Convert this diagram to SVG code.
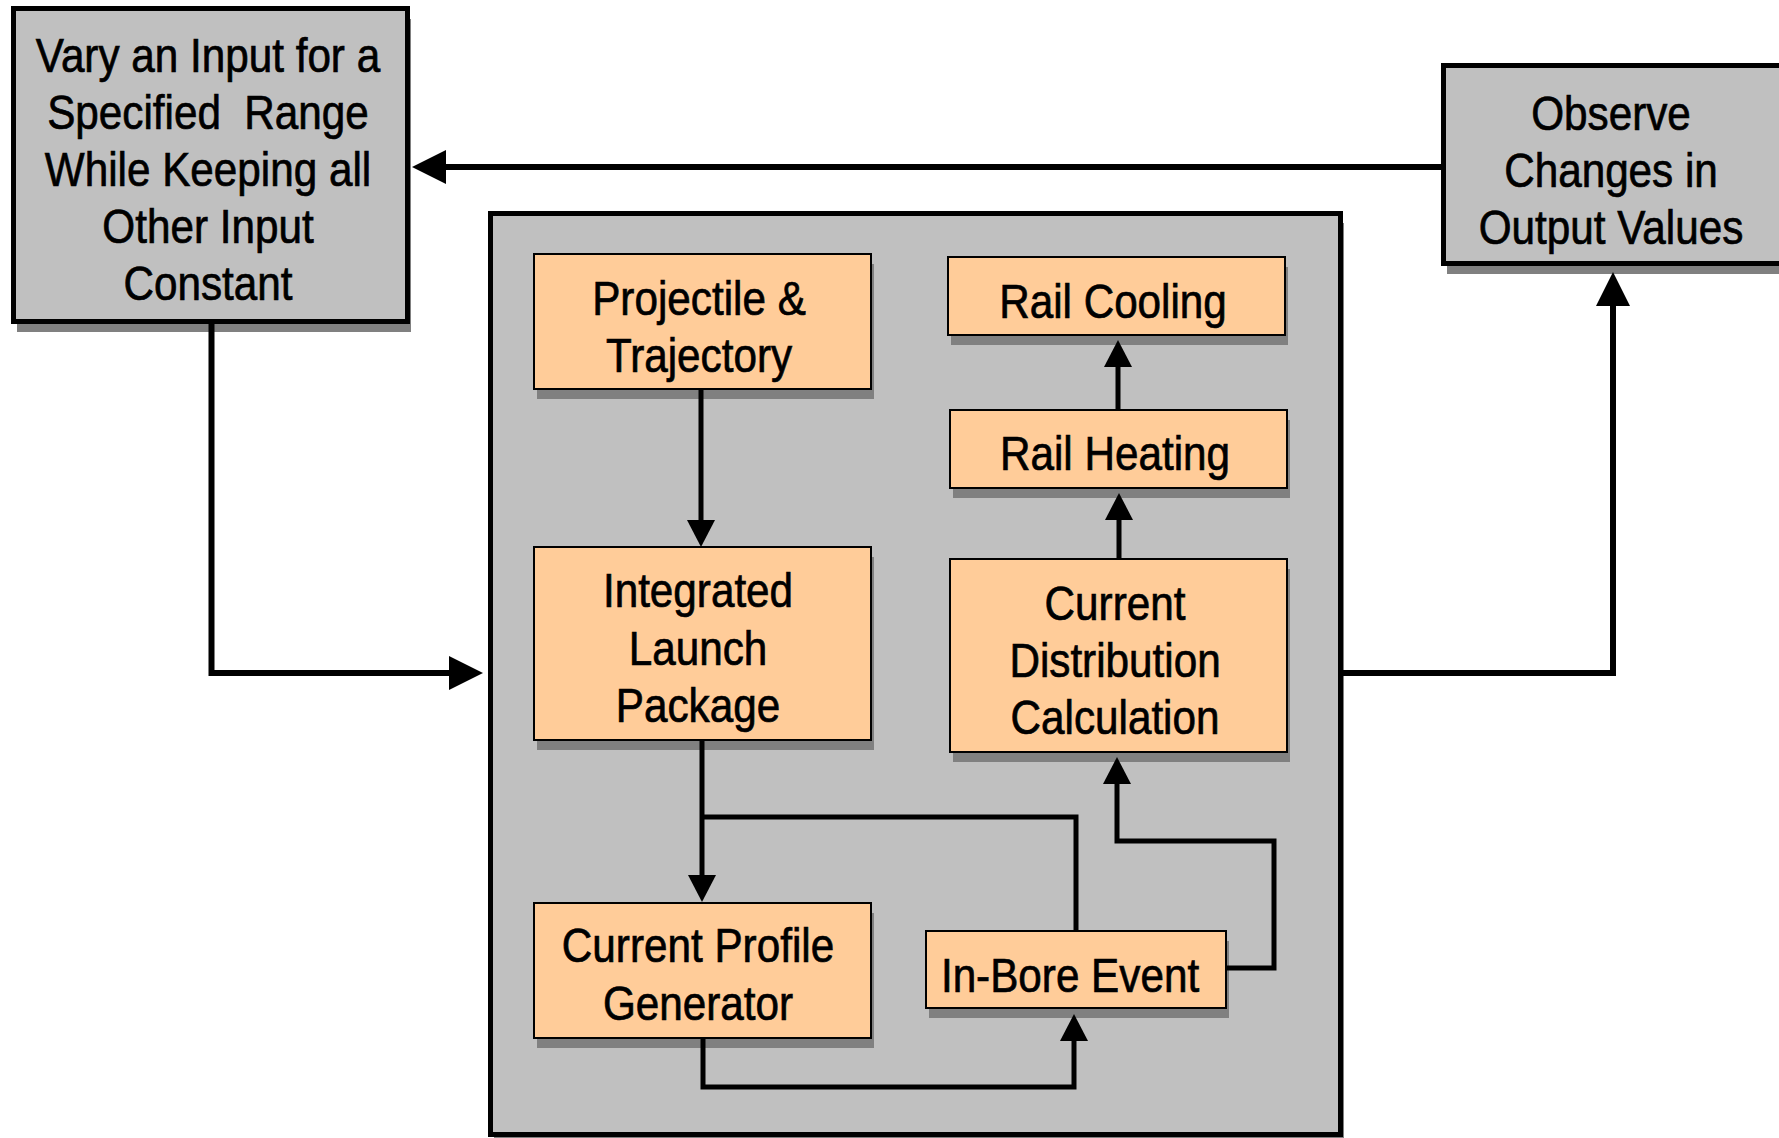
<svg xmlns="http://www.w3.org/2000/svg" width="1779" height="1138" viewBox="0 0 1779 1138">
<defs>
<style>
.gbox{fill:#C0C0C0;stroke:#000;stroke-width:5}
.obox{fill:#FFCC99;stroke:#000;stroke-width:2}
.sh{fill:#808080}
.t{font-family:"Liberation Sans",Arial,sans-serif;font-size:48px;fill:#000;stroke:#000;stroke-width:0.7;text-anchor:middle}
.c{fill:none;stroke:#000;stroke-width:5}
.cb{fill:none;stroke:#000;stroke-width:6}
</style>
<marker id="ab" markerUnits="userSpaceOnUse" markerWidth="40" markerHeight="40" refX="0" refY="17" orient="auto" viewBox="0 0 40 40">
<path d="M0,0 L34,17 L0,34 Z" fill="#000"/>
</marker>
<marker id="as" markerUnits="userSpaceOnUse" markerWidth="32" markerHeight="32" refX="0" refY="14" orient="auto" viewBox="0 0 32 32">
<path d="M0,0 L27,14 L0,28 Z" fill="#000"/>
</marker>
</defs>
<rect width="1779" height="1138" fill="#fff"/>

<g id="panel">
<rect class="sh" x="494" y="223" width="850" height="921"/>
<rect class="gbox" x="490.5" y="213.5" width="850" height="921"/>
</g>

<g id="vary-input">
<rect class="sh" x="17" y="19" width="394" height="313"/>
<rect class="gbox" x="13.5" y="8.5" width="394" height="313"/>
<g transform="translate(208 0) scale(0.88 1)">
<text class="t" x="0" y="72">Vary an Input for a</text>
<text class="t" x="0" y="129" xml:space="preserve">Specified  Range</text>
<text class="t" x="0" y="186">While Keeping all</text>
<text class="t" x="0" y="243">Other Input</text>
<text class="t" x="0" y="300">Constant</text>
</g>
</g>

<g id="observe">
<rect class="sh" x="1447" y="76" width="360" height="198"/>
<rect class="gbox" x="1443.5" y="65.5" width="360" height="198"/>
<g transform="translate(1611 0) scale(0.88 1)">
<text class="t" x="0" y="130">Observe</text>
<text class="t" x="0" y="187">Changes in</text>
<text class="t" x="0" y="244">Output Values</text>
</g>
</g>

<g id="projectile">
<rect class="sh" x="537" y="264" width="337" height="135"/>
<rect class="obox" x="534" y="254" width="337" height="135"/>
<g transform="translate(699 0) scale(0.88 1)">
<text class="t" x="0" y="315">Projectile &amp;</text>
<text class="t" x="0" y="372">Trajectory</text>
</g>
</g>

<g id="integrated">
<rect class="sh" x="537" y="557" width="337" height="193"/>
<rect class="obox" x="534" y="547" width="337" height="193"/>
<g transform="translate(698 0) scale(0.88 1)">
<text class="t" x="0" y="607">Integrated</text>
<text class="t" x="0" y="665">Launch</text>
<text class="t" x="0" y="722">Package</text>
</g>
</g>

<g id="current-profile">
<rect class="sh" x="537" y="913" width="337" height="135"/>
<rect class="obox" x="534" y="903" width="337" height="135"/>
<g transform="translate(698 0) scale(0.88 1)">
<text class="t" x="0" y="962">Current Profile</text>
<text class="t" x="0" y="1020">Generator</text>
</g>
</g>

<g id="in-bore">
<rect class="sh" x="929" y="941" width="300" height="77"/>
<rect class="obox" x="926" y="931" width="300" height="77"/>
<g transform="translate(1070 0) scale(0.88 1)">
<text class="t" x="0" y="992">In-Bore Event</text>
</g>
</g>

<g id="current-distribution">
<rect class="sh" x="953" y="569" width="337" height="193"/>
<rect class="obox" x="950" y="559" width="337" height="193"/>
<g transform="translate(1115 0) scale(0.88 1)">
<text class="t" x="0" y="620">Current</text>
<text class="t" x="0" y="677">Distribution</text>
<text class="t" x="0" y="734">Calculation</text>
</g>
</g>

<g id="rail-heating">
<rect class="sh" x="953" y="420" width="337" height="78"/>
<rect class="obox" x="950" y="410" width="337" height="78"/>
<g transform="translate(1115 0) scale(0.88 1)">
<text class="t" x="0" y="470">Rail Heating</text>
</g>
</g>

<g id="rail-cooling">
<rect class="sh" x="951" y="267" width="337" height="78"/>
<rect class="obox" x="948" y="257" width="337" height="78"/>
<g transform="translate(1113 0) scale(0.88 1)">
<text class="t" x="0" y="318">Rail Cooling</text>
</g>
</g>

<g id="connectors">
<path class="cb" d="M1441,167 H446" marker-end="url(#ab)"/>
<path class="cb" d="M211.5,324 V673 H449" marker-end="url(#ab)"/>
<path class="cb" d="M1343,673 H1613 V306" marker-end="url(#ab)"/>
<path class="c" d="M701,390 V520" marker-end="url(#as)"/>
<path class="c" d="M702,741 V875" marker-end="url(#as)"/>
<path class="c" d="M702,817 H1076 V930"/>
<path class="c" d="M703,1038 V1087 H1074 V1041" marker-end="url(#as)"/>
<path class="c" d="M1227,968 H1274 V841 H1117 V784" marker-end="url(#as)"/>
<path class="c" d="M1119,558 V520" marker-end="url(#as)"/>
<path class="c" d="M1118,409 V367" marker-end="url(#as)"/>
</g>
</svg>
